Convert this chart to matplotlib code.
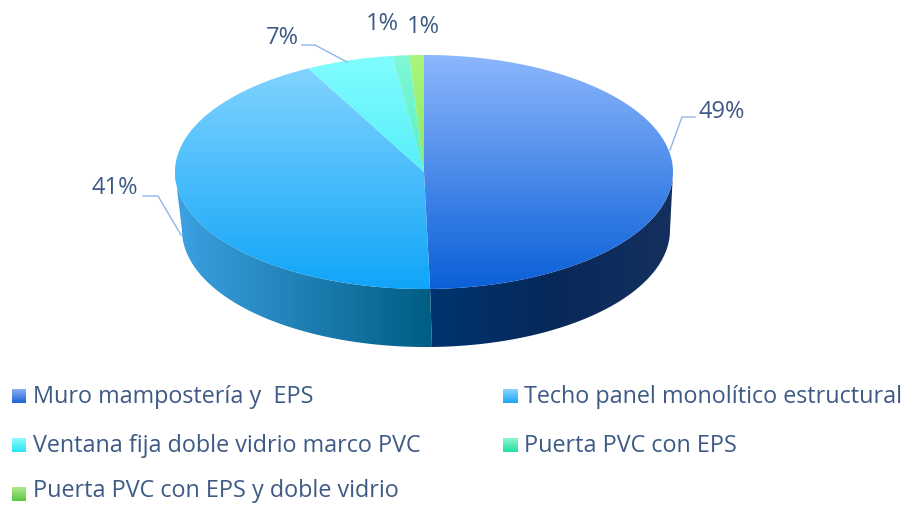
#!/usr/bin/env python3
"""3D style pie chart of envelope components, drawn with plain matplotlib patches."""

import numpy as np
import matplotlib
matplotlib.use('Agg')
import matplotlib.pyplot as plt
import matplotlib.colors as mcolors
from matplotlib.patches import Polygon

# Data
categories = ['Muro mampostería y  EPS', 'Techo panel monolítico estructural',
              'Ventana fija doble vidrio marco PVC', 'Puerta PVC con EPS',
              'Puerta PVC con EPS y doble vidrio']
values = [49.5, 41.2, 6.7, 1.4, 1.2]
value_labels = ['49%', '41%', '7%', '1%', '1%']

# Geometry of the pie, in image pixels
CX, CY = 424, 172
RX, RY = 249, 117
BOTTOM_CX, BOTTOM_RX, DEPTH = 426, 244, 58
SQUEEZE = 6.3  # degrees, mimics the perspective of the 3D view

TEXT_COLOR = '#3d5a85'
LEADER_COLOR = '#8fb6ea'

top_colors = [('#8cb6fc', '#0b60d8'), ('#88d6ff', '#10a5f8'), ('#80fdff', '#2fe0f2'),
              ('#80f8d8', '#2fe6ae'), ('#a9f67c', '#6cd94e')]
side_colors = [('#003470', '#07295a', '#15305e'), ('#3ca2e2', '#005d84'), ('#1fb0bf', '#1fb0bf'),
               ('#20a080', '#20a080'), ('#50a040', '#50a040')]
swatch_colors = [('#8cb0f4', '#1f62d8'), ('#8ad4ff', '#1ea6f6'), ('#90fbff', '#25e4f4'),
                 ('#90f5d0', '#20e0a0'), ('#b0e890', '#58c840')]


def rim(angles, cx=CX, rx=RX, dy=0):
    """Pixel points on the pie edge, angles in degrees clockwise from 12 o'clock."""
    t = np.radians(angles)
    t = t - np.radians(SQUEEZE) * np.sin(2 * t)
    return np.column_stack([cx + rx * np.sin(t), CY - RY * np.cos(t) + dy])


def make_ramp(colors):
    """Evenly spaced colour stops to a 256 step RGB ramp."""
    stops = np.array([mcolors.to_rgb(c) for c in colors])
    pos = np.linspace(0, 1, len(stops))
    steps = np.linspace(0, 1, 256)
    return np.column_stack([np.interp(steps, pos, stops[:, k]) for k in range(3)])


def gradient(ax, outline, colors, horizontal=False, zorder=1):
    """Fill a polygon with a linear gradient."""
    patch = Polygon(outline, closed=True, facecolor='none', edgecolor='none', zorder=zorder)
    ax.add_patch(patch)
    ramp = make_ramp(colors)
    img = ramp[None, :, :] if horizontal else ramp[:, None, :]
    x0, y0 = outline.min(axis=0)
    x1, y1 = outline.max(axis=0)
    im = ax.imshow(img, extent=(x0, x1, y1, y0), aspect='auto', interpolation='bilinear',
                   zorder=zorder)
    im.set_clip_path(patch)


fig = plt.figure(figsize=(9.06, 5.05), dpi=100)
ax = fig.add_axes([0, 0, 1, 1])
plt.rcParams['font.family'] = ['Open Sans', 'DejaVu Sans']

edges = np.concatenate([[0], np.cumsum(values)]) / np.sum(values) * 360

# Side wall first, only the part that faces the viewer
for i in range(len(values)):
    start, end = max(edges[i], 90), min(edges[i + 1], 270)
    if end <= start:
        continue
    a = np.linspace(start, end, 200)
    wall = np.vstack([rim(a), rim(a[::-1], BOTTOM_CX, BOTTOM_RX, DEPTH)])
    gradient(ax, wall, side_colors[i], horizontal=True, zorder=1)

# Top face, gradient runs over the full height of the pie
for i in range(len(values)):
    a = np.linspace(edges[i], edges[i + 1], 200)
    face = np.vstack([[[CX, CY]], rim(a)])
    patch = Polygon(face, closed=True, facecolor='none', edgecolor='none', zorder=2)
    ax.add_patch(patch)
    ramp = make_ramp(top_colors[i])
    im = ax.imshow(ramp[:, None, :], extent=(CX - RX, CX + RX, CY + RY, CY - RY), aspect='auto',
                   interpolation='bilinear', zorder=2)
    im.set_clip_path(patch)

# Leader lines
ax.plot([670, 682, 695], [150, 117, 117], color=LEADER_COLOR, lw=1, zorder=3)
ax.plot([143, 158, 181], [196, 196, 235], color=LEADER_COLOR, lw=1, zorder=3)
ax.plot([302, 315, 347], [45, 45, 62], color=LEADER_COLOR, lw=1, zorder=3)

# Value labels
label_pos = [(722, 112), (115, 188), (282, 38), (382, 24), (423, 27)]
for text, (x, y) in zip(value_labels, label_pos):
    ax.text(x, y, text, color=TEXT_COLOR, fontsize=17, ha='center', va='center', zorder=4)

# Legend, laid out by hand in two columns
legend_pos = [(12, 396), (503, 396), (12, 445), (503, 445), (12, 494)]
for name, colors, (x, y) in zip(categories, swatch_colors, legend_pos):
    w = 14 if x < 100 else 15
    box = np.array([[x, y - 7], [x + w, y - 7], [x + w, y + 7], [x, y + 7]])
    gradient(ax, box, colors, zorder=3)
    # last row sits close to the bottom edge, keep its descenders inside
    ax.text(x + 21, min(y + 1, 491), name, color=TEXT_COLOR, fontsize=16.8, ha='left', va='center', zorder=4)

ax.set_xlim(0, 906)
ax.set_ylim(505, 0)
ax.axis('off')

fig.savefig('out.png', dpi=100)
